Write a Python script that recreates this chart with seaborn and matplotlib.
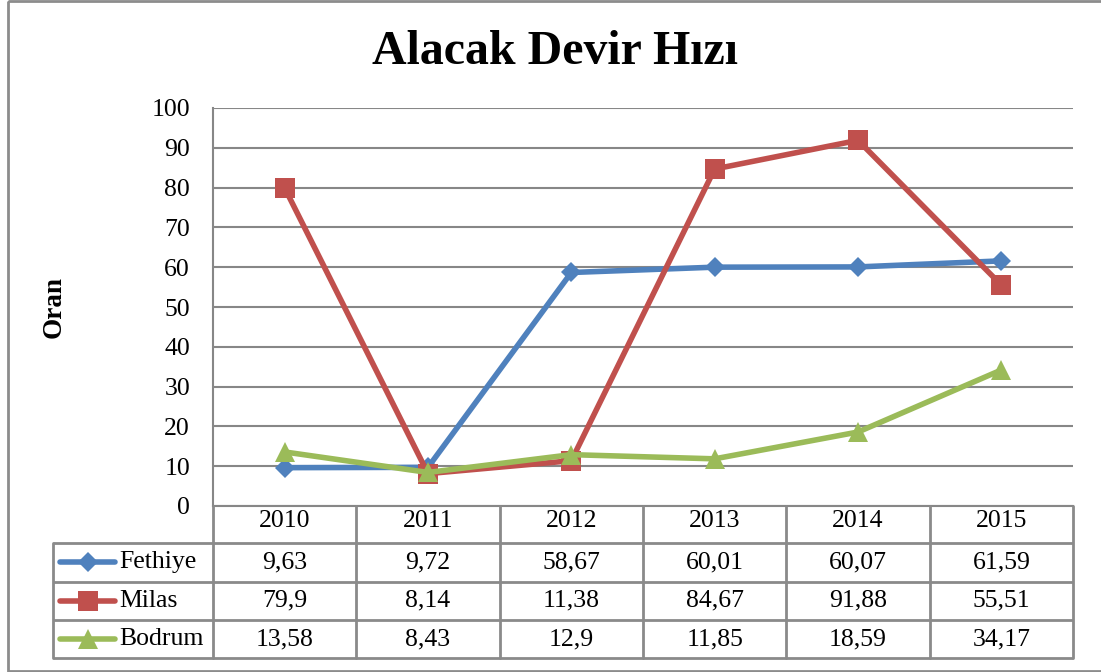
import seaborn as sns
import matplotlib.pyplot as plt
import matplotlib.transforms as mtransforms
from matplotlib.patches import Rectangle
import pandas as pd

# data
years = ['2010', '2011', '2012', '2013', '2014', '2015']
series_names = ['Fethiye', 'Milas', 'Bodrum']
fethiye = [9.63, 9.72, 58.67, 60.01, 60.07, 61.59]
milas = [79.9, 8.14, 11.38, 84.67, 91.88, 55.51]
bodrum = [13.58, 8.43, 12.9, 11.85, 18.59, 34.17]
y_ticks = [0, 10, 20, 30, 40, 50, 60, 70, 80, 90, 100]

colors = ['#4F81BD', '#C0504D', '#9BBB59']
markers = ['D', 's', '^']
msizes = [10, 14, 14]
grid_c = '#878787'

sns.set_style("white")
plt.rcParams['font.family'] = ['Liberation Serif', 'DejaVu Serif']
plt.rcParams['text.color'] = 'black'
plt.rcParams['axes.labelcolor'] = 'black'
plt.rcParams['xtick.color'] = 'black'
plt.rcParams['ytick.color'] = 'black'

W, H = 1101, 672
fig = plt.figure(figsize=(W / 100, H / 100), dpi=100)

# plot area in pixels
L, R, T, B = 213, 1073, 108, 506
ax = fig.add_axes([L / W, 1 - B / H, (R - L) / W, (B - T) / H])

pos = list(range(len(years)))
df = pd.DataFrame({
    'pos': pos * 3,
    'value': fethiye + milas + bodrum,
    'series': [n for n in series_names for _ in years],
})

for name, c, m, ms in zip(series_names, colors, markers, msizes):
    d = df[df['series'] == name]
    sns.lineplot(data=d, x='pos', y='value', color=c, marker=m, markersize=ms,
                 markeredgewidth=0, linewidth=4, ax=ax, legend=False)

ax.set_xlim(-0.5, len(years) - 0.5)
ax.set_ylim(0, 100)
ax.set_yticks(y_ticks)
ax.set_xticks(pos, years)
ax.tick_params(axis='y', length=0, pad=16.5, labelsize=18.5)
ax.tick_params(axis='x', length=0, pad=3, labelsize=18.5)
ax.yaxis.grid(True, color=grid_c, linewidth=1.5)
ax.xaxis.grid(False)
ax.set_xlabel('')
ax.set_ylabel('Oran', fontweight='bold', fontsize=19.5)
ax.yaxis.set_label_coords(-0.17, 0.5)
for s in ['top', 'right']:
    ax.spines[s].set_visible(False)
for s in ['left', 'bottom']:
    ax.spines[s].set_color(grid_c)
    ax.spines[s].set_linewidth(1.5)

# overlay in pixel coordinates for the data table and frame
ov = fig.add_axes([0, 0, 1, 1], zorder=5)
ov.set_xlim(0, W)
ov.set_ylim(H, 0)
ov.axis('off')
ov.patch.set_visible(False)
trans = mtransforms.blended_transform_factory(ax.transData, ov.transData)

tab_c = '#8a8a8a'
row_edges = [543, 581.5, 620, 658]
leg_left = 53
for y in row_edges:
    ov.plot([leg_left, R], [y, y], color=tab_c, lw=2, solid_capstyle='butt')
ov.plot([leg_left, leg_left], [row_edges[0], row_edges[-1]], color=tab_c, lw=2)
for i in range(len(years) + 1):
    ov.plot([i - 0.5, i - 0.5], [B, row_edges[-1]], color=tab_c, lw=2,
            transform=trans, clip_on=False)

values = [fethiye, milas, bodrum]
for j, (name, vals) in enumerate(zip(series_names, values)):
    yc = (row_edges[j] + row_edges[j + 1]) / 2
    for i, v in enumerate(vals):
        ov.text(i, yc, str(v).replace('.', ','), transform=trans, ha='center',
                va='center', fontsize=18.5)
    ov.plot([60, 115], [yc, yc], color=colors[j], lw=4, solid_capstyle='round')
    ov.plot([87.5], [yc], marker=markers[j], markersize=msizes[j],
            color=colors[j], markeredgewidth=0)
    ov.text(119, yc, name, ha='left', va='center', fontsize=18.5)

# outer frame
ov.add_patch(Rectangle((8, 1), W, 670, fill=False, edgecolor='#8c8c8c', lw=2,
                       clip_on=False))

fig.text(555 / W, 1 - 52 / H, 'Alacak Devir Hızı', ha='center', va='center',
         fontsize=34.5, fontweight='bold')

fig.savefig('out.png', dpi=100)
